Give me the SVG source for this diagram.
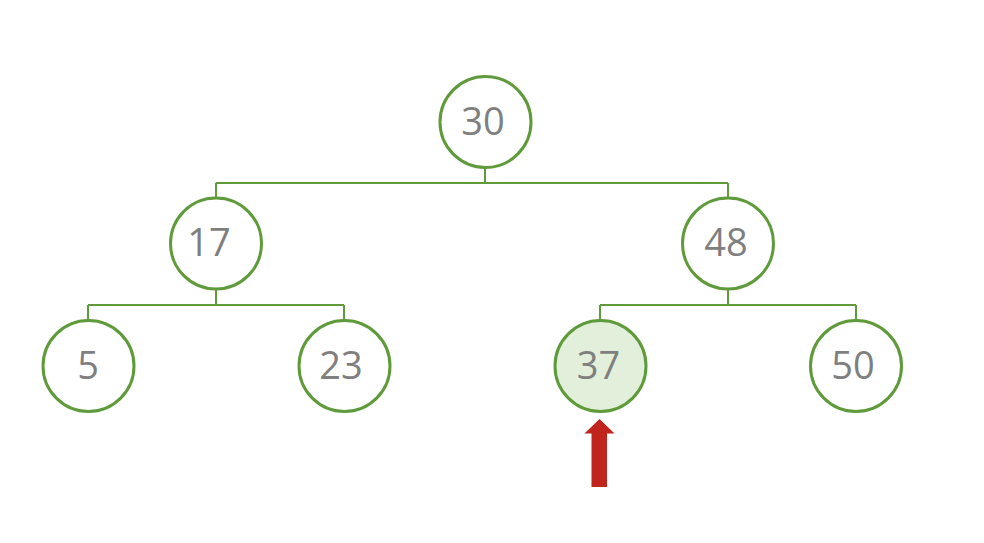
<svg xmlns="http://www.w3.org/2000/svg" width="984" height="543" viewBox="0 0 984 543">
<style>
.n circle{fill:#ffffff;stroke:#5f9b3a;stroke-width:3}
.n.hl circle{fill:#e2efda}
.n text{font-family:"Open Sans","Noto Sans",sans-serif;font-size:38px;fill:#7f7f7f;text-anchor:middle}
.c{fill:none;stroke:#5f9b3a;stroke-width:2}
</style>
<rect width="984" height="543" fill="#ffffff"/>
<g id="connectors">
<path class="c" d="M485,168V183M216,183H728M216,183V198M728,183V198"/>
<path class="c" d="M216,289V305M88,305H344M88,305V320M344,305V320"/>
<path class="c" d="M728,289V305M600,305H856M600,305V320M856,305V320"/>
</g>
<g id="n30" class="n"><circle cx="485.5" cy="122" r="45.5"/><text x="483" y="134.5">30</text></g>
<g id="n17" class="n"><circle cx="216" cy="243.5" r="45.5"/><text x="209" y="256">17</text></g>
<g id="n48" class="n"><circle cx="728" cy="243.5" r="45.5"/><text x="726" y="256">48</text></g>
<g id="n5" class="n"><circle cx="88.5" cy="366" r="45.5"/><text x="88" y="378.5">5</text></g>
<g id="n23" class="n"><circle cx="344.5" cy="366" r="45.5"/><text x="341" y="378.5">23</text></g>
<g id="n37" class="n hl"><circle cx="600.5" cy="366" r="45.5"/><text x="598.5" y="378.5">37</text></g>
<g id="n50" class="n"><circle cx="856" cy="366" r="45.5"/><text x="853" y="378.5">50</text></g>
<g id="arrow"><polygon points="599.5,419 614.5,433.5 607,433.5 607,487 591.5,487 591.5,433.5 584.5,433.5" fill="#c0241c"/></g>
</svg>
